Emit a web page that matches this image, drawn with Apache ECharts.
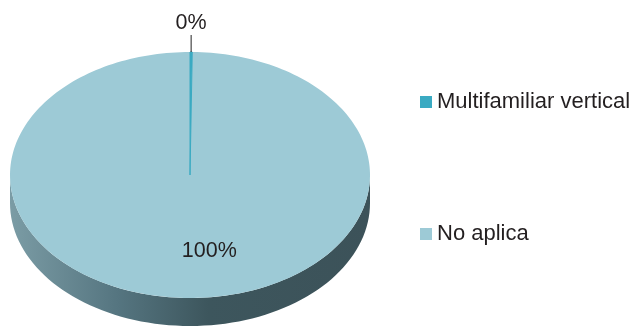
<!DOCTYPE html>
<html>
<head>
<meta charset="utf-8">
<script src="https://cdn.jsdelivr.net/npm/echarts@6/dist/echarts.min.js"></script>
<style>html,body{margin:0;padding:0;background:#fff}#c{width:638px;height:328px}</style>
</head>
<body>
<div id="c"></div>
<script>
const categories = ['Multifamiliar vertical', 'No aplica'];
const values = [0.2, 99.8];
const sliceColors = ['#3AAAC2', '#9DCAD6'];

const total = values.reduce((a, b) => a + b, 0);
const CX = 190, CY = 175, RX = 180, RY = 123, DEPTH = 28;

function ellPt(t, dy) { return [RX * Math.cos(t), RY * Math.sin(t) + (dy || 0)]; }

function makeRender(idx) {
  return function (params, api) {
    let before = 0;
    for (let i = 0; i < idx; i++) before += values[i];
    const v = values[idx];
    const a0 = -Math.PI / 2 + before / total * 2 * Math.PI;
    const a1 = a0 + v / total * 2 * Math.PI;
    const children = [];
    const w0 = Math.max(a0, 0), w1 = Math.min(a1, Math.PI);
    if (w1 > w0) {
      const pts = [];
      const n = 80;
      for (let k = 0; k <= n; k++) pts.push(ellPt(w0 + (w1 - w0) * k / n, 0));
      for (let k = n; k >= 0; k--) pts.push(ellPt(w0 + (w1 - w0) * k / n, DEPTH));
      children.push({
        type: 'polygon',
        shape: { points: pts },
        style: {
          fill: new echarts.graphic.LinearGradient(0, 0, 1, 0, [
            { offset: 0, color: '#7b9ca5' },
            { offset: 0.3, color: '#557580' },
            { offset: 0.55, color: '#3d565d' },
            { offset: 1, color: '#3c5259' }
          ]),
          stroke: null
        }
      });
    }
    const top = [[0, 0]];
    const m = Math.max(2, Math.ceil((a1 - a0) / (2 * Math.PI) * 240));
    for (let k = 0; k <= m; k++) top.push(ellPt(a0 + (a1 - a0) * k / m, 0));
    children.push({
      type: 'polygon',
      shape: { points: top },
      style: { fill: sliceColors[idx], stroke: idx === 0 ? sliceColors[idx] : null, lineWidth: 1 }
    });
    const pct = Math.round(v / total * 100) + '%';
    const mid = (a0 + a1) / 2;
    const font = '21.5px "Liberation Sans", Arial, sans-serif';
    if (v / total < 0.05) {
      const p = ellPt(mid, 0);
      children.push({
        type: 'line',
        shape: { x1: p[0], y1: p[1], x2: p[0], y2: p[1] - 17 },
        style: { stroke: '#222', lineWidth: 1 }
      });
      children.push({
        type: 'text',
        x: p[0], y: p[1] - 18,
        style: { text: pct, fill: '#231f20', font: font, align: 'center', verticalAlign: 'bottom' }
      });
    } else {
      const p = [RX * 0.62 * Math.cos(mid) + 20, RY * 0.62 * Math.sin(mid)];
      children.push({
        type: 'text',
        x: p[0], y: p[1],
        style: { text: pct, fill: '#231f20', font: font, align: 'center', verticalAlign: 'middle' }
      });
    }
    return { type: 'group', x: CX, y: CY, children: children };
  };
}

const chart = echarts.init(document.getElementById('c'), null, { renderer: 'canvas' });
const series = categories.map((name, i) => ({
  type: 'custom',
  name: name,
  coordinateSystem: 'none',
  renderItem: makeRender(i),
  itemStyle: { color: sliceColors[i] },
  data: [values[i]],
  z: i === 0 ? 3 : 2,
  silent: true
}));

chart.setOption({
  animation: false,
  backgroundColor: '#ffffff',
  legend: {
    orient: 'vertical',
    left: 420,
    top: 91,
    padding: 0,
    icon: 'rect',
    itemWidth: 12,
    itemHeight: 12,
    itemGap: 110,
    selectedMode: false,
    data: categories,
    textStyle: { fontSize: 22, lineHeight: 20, color: '#231f20', fontFamily: '"Liberation Sans", Arial, sans-serif' }
  },
  series: series
});
</script>
</body>
</html>
